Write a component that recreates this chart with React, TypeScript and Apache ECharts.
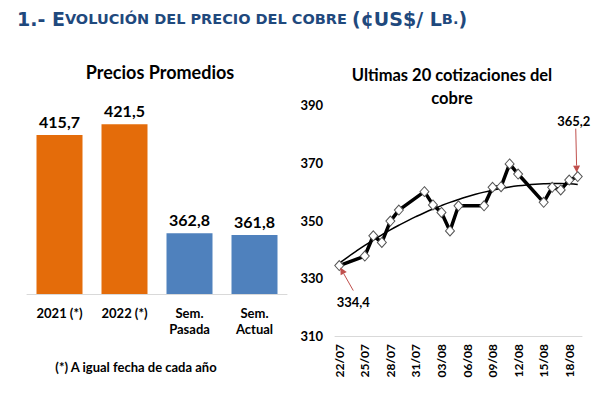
import React, { useEffect, useRef } from "react";
import * as echarts from "echarts";

// ---- Data ----
const barCategories = ["2021 (*)", "2022 (*)", "Sem.\nPasada", "Sem.\nActual"];
const barValues = [415.7, 421.5, 362.8, 361.8];

const quoteDates = [
  "22/07", "25/07", "26/07", "27/07", "28/07", "29/07",
  "01/08", "02/08", "03/08", "04/08", "05/08",
  "08/08", "09/08", "10/08", "11/08", "12/08",
  "15/08", "16/08", "17/08", "18/08", "19/08",
];
const quoteValues = [
  334.4, 337.7, 344.7, 342.4, 349.8, 353.6,
  360.0, 355.4, 352.8, 346.4, 355.1,
  355.1, 361.5, 361.7, 369.6, 366.1,
  356.3, 361.5, 360.6, 364.0, 365.2,
];
const quoteYear = 2022;
const yTicksRight = { min: 310, max: 390, interval: 20 };

const FONT = "Lato";
const ORANGE = "#E46C0A";
const BLUE = "#4F81BD";
const RED = "#C0504D";

function parseDate(s: string) {
  const [d, m] = s.split("/").map(Number);
  return Date.UTC(quoteYear, m - 1, d);
}
function fmt(t: number) {
  const dt = new Date(t);
  const d = String(dt.getUTCDate()).padStart(2, "0");
  const m = String(dt.getUTCMonth() + 1).padStart(2, "0");
  return `${d}/${m}`;
}
const DAY = 86400000;
const t0 = parseDate(quoteDates[0]);
const tN = parseDate(quoteDates[quoteDates.length - 1]);
const calendar: string[] = [];
for (let t = t0; t <= tN; t += DAY) calendar.push(fmt(t));
const dayIdx = quoteDates.map((d) => Math.round((parseDate(d) - t0) / DAY));
const lineData: (number | null)[] = calendar.map(() => null);
dayIdx.forEach((i, k) => (lineData[i] = quoteValues[k]));

// quadratic least-squares trendline (as Excel's polynomial trendline)
function quadFit(xs: number[], ys: number[]) {
  let s0 = 0, s1 = 0, s2 = 0, s3 = 0, s4 = 0, t0_ = 0, t1 = 0, t2 = 0;
  xs.forEach((x, i) => {
    const y = ys[i];
    s0 += 1; s1 += x; s2 += x * x; s3 += x ** 3; s4 += x ** 4;
    t0_ += y; t1 += x * y; t2 += x * x * y;
  });
  const A = [[s0, s1, s2, t0_], [s1, s2, s3, t1], [s2, s3, s4, t2]];
  for (let c = 0; c < 3; c++) {
    for (let r = c + 1; r < 3; r++) {
      const f = A[r][c] / A[c][c];
      for (let k = c; k < 4; k++) A[r][k] -= f * A[c][k];
    }
  }
  const coef = [0, 0, 0];
  for (let r = 2; r >= 0; r--) {
    let s = A[r][3];
    for (let k = r + 1; k < 3; k++) s -= A[r][k] * coef[k];
    coef[r] = s / A[r][r];
  }
  return (x: number) => coef[0] + coef[1] * x + coef[2] * x * x;
}
const trendFn = quadFit(dayIdx, quoteValues);
const trendData = calendar.map((_, i) => +trendFn(i).toFixed(3));

const dec = (v: number) => v.toFixed(1).replace(".", ",");

export default function App() {
  const ref = useRef<HTMLDivElement>(null);
  useEffect(() => {
    document.body.style.margin = "0";
    const chart = echarts.init(ref.current!, null, { renderer: "svg" });
    chart.setOption({
      animation: false,
      backgroundColor: "#fff",
      textStyle: { fontFamily: FONT },
      title: [
        {
          left: 12,
          top: 4,
          text: "{b|1.- E}{s|VOLUCIÓN DEL PRECIO DEL COBRE }{b|(¢US$/ L}{s|B.}{b|)}",
          textStyle: {
            rich: {
              b: { fontFamily: "DejaVu Sans", fontWeight: "bold", fontSize: 19, color: "#1F497D" },
              s: { fontFamily: "DejaVu Sans", fontWeight: "bold", fontSize: 14.5, color: "#1F497D" },
            },
          },
        },
        {
          left: 155,
          top: 58,
          textAlign: "center",
          text: "Precios Promedios",
          textStyle: { fontFamily: FONT, fontWeight: "bold", fontSize: 18, color: "#000" },
        },
        {
          left: 447,
          top: 58,
          textAlign: "center",
          text: "Ultimas 20 cotizaciones del\ncobre",
          textStyle: { fontFamily: FONT, fontWeight: "bold", fontSize: 16.5, lineHeight: 23, color: "#000" },
        },
        {
          left: 131,
          top: 355,
          textAlign: "center",
          text: "(*) A igual fecha de cada año",
          textStyle: { fontFamily: FONT, fontWeight: "bold", fontSize: 13, color: "#000" },
        },
      ],
      grid: [
        { left: 27, top: 90, width: 260, height: 204 },
        { left: 335, top: 105, width: 247, height: 231 },
      ],
      xAxis: [
        {
          type: "category",
          gridIndex: 0,
          data: barCategories,
          axisLine: { lineStyle: { color: "#D9D9D9" } },
          axisTick: { show: false },
          axisLabel: {
            fontFamily: FONT, fontWeight: "bold", fontSize: 13, color: "#000",
            margin: 11, lineHeight: 16, interval: 0,
          },
        },
        {
          type: "category",
          gridIndex: 1,
          data: calendar,
          boundaryGap: true,
          axisLine: { lineStyle: { color: "#D9D9D9" } },
          axisTick: { show: false },
          axisLabel: {
            interval: 2, rotate: 90, fontFamily: FONT, fontWeight: "bold",
            fontSize: 12, color: "#000", margin: 8,
          },
        },
      ],
      yAxis: [
        { type: "value", gridIndex: 0, min: 330, max: 440, show: false, splitLine: { show: false } },
        {
          type: "value",
          gridIndex: 1,
          min: yTicksRight.min,
          max: yTicksRight.max,
          interval: yTicksRight.interval,
          axisLine: { show: false },
          axisTick: { show: false },
          splitLine: { show: false },
          axisLabel: { fontFamily: FONT, fontWeight: "bold", fontSize: 13, color: "#000", margin: 12 },
        },
      ],
      series: [
        {
          type: "bar",
          xAxisIndex: 0,
          yAxisIndex: 0,
          barWidth: 46,
          data: barValues.map((v, i) => ({ value: v, itemStyle: { color: i < 2 ? ORANGE : BLUE } })),
          label: {
            show: true,
            position: "top",
            distance: 6,
            formatter: (p: any) => dec(p.value),
            fontFamily: FONT,
            fontWeight: "bold",
            fontSize: 16,
            color: "#000",
          },
        },
        {
          type: "line",
          xAxisIndex: 1,
          yAxisIndex: 1,
          data: trendData,
          smooth: true,
          showSymbol: false,
          symbol: "none",
          lineStyle: { color: "#000", width: 1.5 },
          z: 3,
        },
        {
          type: "line",
          xAxisIndex: 1,
          yAxisIndex: 1,
          data: lineData,
          connectNulls: true,
          symbol: "diamond",
          symbolSize: [9, 10],
          showAllSymbol: true,
          itemStyle: { color: "#fff", borderColor: "#555", borderWidth: 1 },
          lineStyle: { color: "#000", width: 3.5 },
          z: 4,
        },
      ],
    });

    const firstIdx = dayIdx[0];
    const lastIdx = dayIdx[dayIdx.length - 1];
    const p0 = chart.convertToPixel({ xAxisIndex: 1, yAxisIndex: 1 }, [firstIdx, quoteValues[0]]) as number[];
    const p1 = chart.convertToPixel({ xAxisIndex: 1, yAxisIndex: 1 }, [lastIdx, quoteValues[quoteValues.length - 1]]) as number[];

    const arrow = (x1: number, y1: number, x2: number, y2: number) => {
      const dx = x2 - x1, dy = y2 - y1;
      const len = Math.hypot(dx, dy);
      const ux = dx / len, uy = dy / len;
      const hl = 7, hw = 3.5;
      const bx = x2 - ux * hl, by = y2 - uy * hl;
      return [
        { type: "line", shape: { x1, y1, x2: bx, y2: by }, style: { stroke: RED, lineWidth: 1 }, z: 10 },
        {
          type: "polygon",
          shape: { points: [[x2, y2], [bx - uy * hw, by + ux * hw], [bx + uy * hw, by - ux * hw]] },
          style: { fill: RED },
          z: 10,
        },
      ];
    };
    const labelStyle = { fontFamily: FONT, fontWeight: "bold", fontSize: 13, fill: "#000", align: "center", verticalAlign: "middle" };

    chart.setOption({
      graphic: [
        ...arrow(p0[0] + 14, p0[1] + 25, p0[0] + 1, p0[1] + 2),
        { type: "text", x: p0[0] + 14, y: p0[1] + 36, style: { text: dec(quoteValues[0]), ...labelStyle }, z: 10 },
        ...arrow(p1[0] - 2, p1[1] - 48, p1[0] - 1, p1[1] - 4),
        { type: "text", x: p1[0] - 4, y: p1[1] - 56, style: { text: dec(quoteValues[quoteValues.length - 1]), ...labelStyle }, z: 10 },
      ],
    });

    return () => chart.dispose();
  }, []);
  return <div ref={ref} style={{ position: "fixed", left: 0, top: 0, width: 610, height: 401 }} />;
}
